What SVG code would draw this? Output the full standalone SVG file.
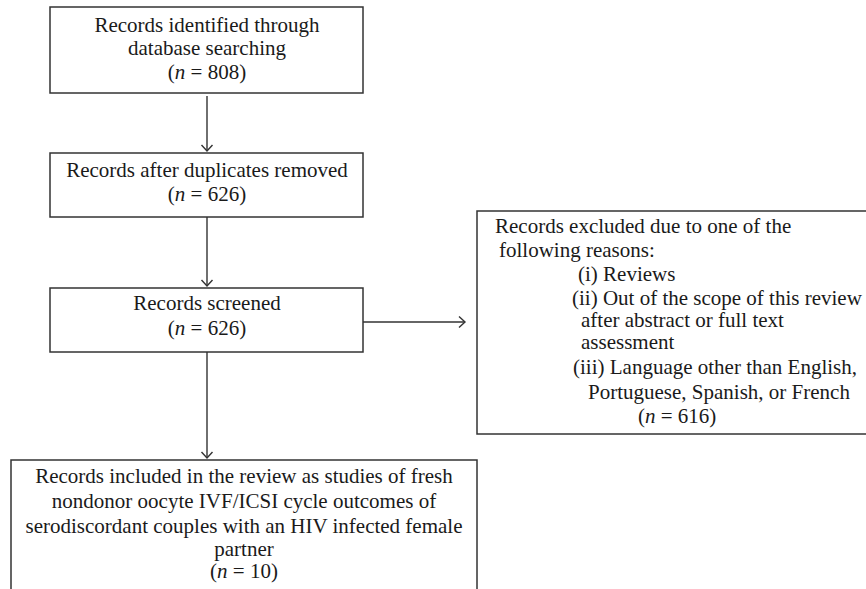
<svg xmlns="http://www.w3.org/2000/svg" width="866" height="589" viewBox="0 0 866 589">
<style>
.box{fill:#fff;stroke:#333;stroke-width:1.5}
text{font-family:"Liberation Serif","Times New Roman",serif;font-size:21px;fill:#1a1a1a}
.c{text-anchor:middle}
.it{font-style:italic}
.ln{fill:none;stroke:#333;stroke-width:1.4}
</style>
<defs>
<marker id="ah" markerWidth="14" markerHeight="14" refX="7" refY="7" orient="auto" markerUnits="userSpaceOnUse">
<path d="M1,1.5 L7,7 L1,12.5" fill="none" stroke="#333" stroke-width="1.4"/>
</marker>
</defs>
<rect width="866" height="589" fill="#fff"/>
<g id="n1">
<rect class="box" x="50" y="7" width="313" height="86"/>
<text class="c" x="207" y="32">Records identified through</text>
<text class="c" x="207" y="55">database searching</text>
<text class="c" x="207" y="79">(<tspan class="it">n</tspan> = 808)</text>
</g>
<g id="n2">
<rect class="box" x="50" y="153" width="313" height="64"/>
<text class="c" x="207" y="177">Records after duplicates removed</text>
<text class="c" x="207" y="201">(<tspan class="it">n</tspan> = 626)</text>
</g>
<g id="n3">
<rect class="box" x="50" y="288" width="313" height="64"/>
<text class="c" x="207" y="310">Records screened</text>
<text class="c" x="207" y="335">(<tspan class="it">n</tspan> = 626)</text>
</g>
<g id="n4">
<rect class="box" x="477" y="211" width="400" height="223"/>
<text x="495" y="233">Records excluded due to one of the</text>
<text x="499" y="257">following reasons:</text>
<text x="578" y="281">(i) Reviews</text>
<text x="572" y="305">(ii) Out of the scope of this review</text>
<text x="581" y="327">after abstract or full text</text>
<text x="581" y="349">assessment</text>
<text x="573" y="374">(iii) Language other than English,</text>
<text x="588" y="399">Portuguese, Spanish, or French</text>
<text x="638" y="423">(<tspan class="it">n</tspan> = 616)</text>
</g>
<g id="n5">
<rect class="box" x="11" y="460" width="466" height="150"/>
<text class="c" x="244" y="483">Records included in the review as studies of fresh</text>
<text class="c" x="244" y="508">nondonor oocyte IVF/ICSI cycle outcomes of</text>
<text class="c" x="244" y="533">serodiscordant couples with an HIV infected female</text>
<text class="c" x="244" y="556">partner</text>
<text class="c" x="244" y="578">(<tspan class="it">n</tspan> = 10)</text>
</g>
<g id="connectors">
<line class="ln" x1="207" y1="96" x2="207" y2="151" marker-end="url(#ah)"/>
<line class="ln" x1="207" y1="217" x2="207" y2="286" marker-end="url(#ah)"/>
<line class="ln" x1="207" y1="352" x2="207" y2="458" marker-end="url(#ah)"/>
<line class="ln" x1="363" y1="322" x2="465" y2="322" marker-end="url(#ah)"/>
</g>
</svg>
